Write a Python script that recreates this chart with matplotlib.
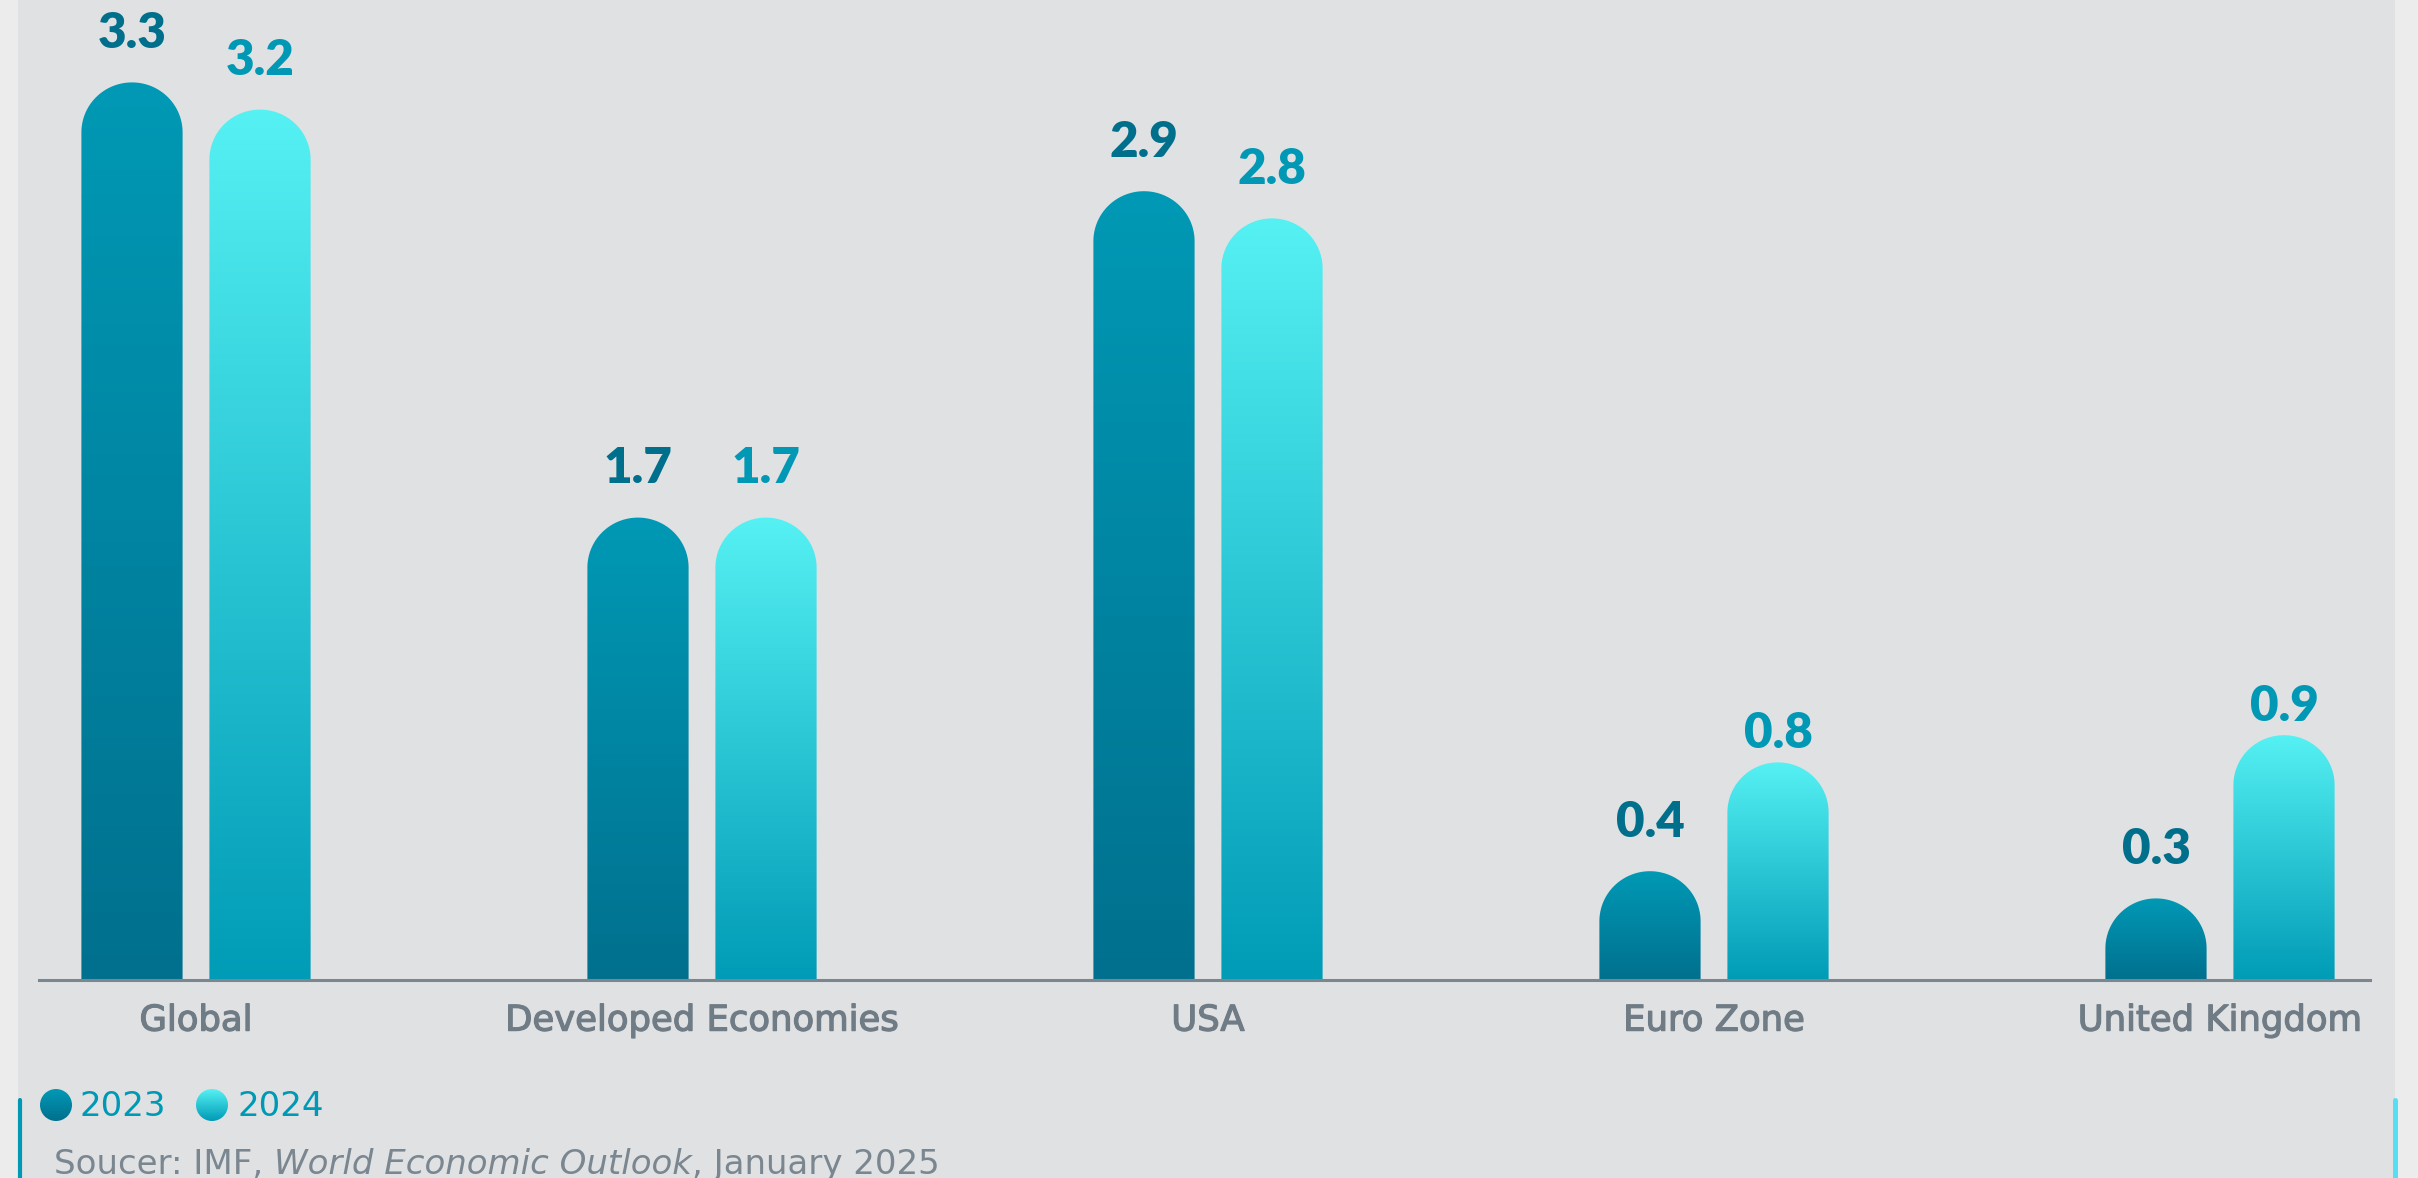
import numpy as np
import matplotlib
matplotlib.use("Agg")
import matplotlib.pyplot as plt
import matplotlib.patheffects as pe
from matplotlib.colors import LinearSegmentedColormap
from matplotlib.path import Path
from matplotlib.patches import PathPatch, Circle, Rectangle

# ---------------- data ----------------
categories = ["Global", "Developed Economies", "USA", "Euro Zone", "United Kingdom"]
series_names = ["2023", "2024"]
values_2023 = [3.3, 1.7, 2.9, 0.4, 0.3]
values_2024 = [3.2, 1.7, 2.8, 0.8, 0.9]
source_parts = ["Soucer: IMF, ", "World Economic Outlook", ", January 2025"]

# ---------------- style ----------------
W, H, DPI = 2418, 1178, 100
VAL_FONT = ["Lato", "DejaVu Sans"]
TXT_FONT = ["DejaVu Sans"]
plt.rcParams["font.family"] = TXT_FONT

cmap23 = LinearSegmentedColormap.from_list("c23", ["#00708e", "#0099b5"])
cmap24 = LinearSegmentedColormap.from_list("c24", ["#009bb6", "#55f1f3"])
lab23 = "#006f8c"
lab24 = "#0098b4"
tick_color = "#6f7b85"
# label gap above bar top (points) per series
label_gap_2023 = [35, 35, 35, 35, 35]
label_gap_2024 = [35, 35, 35, 21, 21]

fig = plt.figure(figsize=(W / DPI, H / DPI), dpi=DPI)
fig.patch.set_facecolor("#ececec")

# overlay axes in pixel coordinates for background / legend / footer
ov = fig.add_axes([0, 0, 1, 1], zorder=-1)
ov.axis("off")
ov.add_patch(Rectangle((18, 0), 2377, H, color="#e0e1e3", lw=0, zorder=0))

# main axes
base_px = 980
px_per_unit = 272
ax_left, ax_right = 39, 2370
ax = fig.add_axes([ax_left / W, (H - base_px) / H, (ax_right - ax_left) / W, base_px / H])
ax.patch.set_alpha(0)
xmin, xmax = (ax_left - 196) / 506, (ax_right - 196) / 506
ymax = base_px / px_per_unit

x = np.arange(len(categories))
bw = 0.2
off = 0.1265
cap_h = 50 / px_per_unit

def rounded_bar(rect, cmap):
    x0 = rect.get_x()
    w = rect.get_width()
    h = rect.get_height()
    x1 = x0 + w
    xc = x0 + w / 2
    rx = w / 2
    ry = min(cap_h, h)
    t = np.linspace(np.pi, 0, 80)
    arc = np.column_stack([xc + rx * np.cos(t), (h - ry) + ry * np.sin(t)])
    verts = np.vstack([[x0, 0], [x0, h - ry], arc, [x1, h - ry], [x1, 0], [x0, 0]])
    codes = [Path.MOVETO] + [Path.LINETO] * (len(verts) - 2) + [Path.CLOSEPOLY]
    patch = PathPatch(Path(verts, codes), facecolor="none", edgecolor="none")
    ax.add_patch(patch)
    grad = np.linspace(0, 1, 256).reshape(-1, 1)
    im = ax.imshow(grad, extent=(x0, x1, 0, h), origin="lower", cmap=cmap,
                   aspect="auto", zorder=2)
    im.set_clip_path(patch)

for vals, dx, cmap, lc, gaps in [(values_2023, -off, cmap23, lab23, label_gap_2023),
                                 (values_2024, off, cmap24, lab24, label_gap_2024)]:
    bars = ax.bar(x + dx, vals, width=bw, alpha=0)
    for rect, v, g in zip(bars, vals, gaps):
        rounded_bar(rect, cmap)
        ax.annotate(f"{v:.1f}", xy=(rect.get_x() + rect.get_width() / 2, rect.get_height()),
                    xytext=(0, g), textcoords="offset points", ha="center", va="center",
                    fontsize=35.5, fontweight="heavy", color=lc, zorder=3, family=VAL_FONT)

ax.set_xlim(xmin, xmax)
ax.set_ylim(0, ymax)
for s in ["top", "left", "right"]:
    ax.spines[s].set_visible(False)
ax.spines["bottom"].set_color("#7a8690")
ax.spines["bottom"].set_linewidth(2.2)
ax.spines["bottom"].set_zorder(4)
ax.set_yticks([])
ax.set_xticks(x)
ax.set_xticklabels(categories, fontsize=25.5, color=tick_color)
for lbl in ax.get_xticklabels():
    lbl.set_path_effects([pe.withStroke(linewidth=0.9, foreground=tick_color)])
ax.tick_params(axis="x", length=0, pad=17)

# legend (gradient dots)
ov.set_xlim(0, W)
ov.set_ylim(H, 0)
for cx, tx, cmap, name in [(56, 80, cmap23, series_names[0]), (212, 237, cmap24, series_names[1])]:
    r = 16
    c = Circle((cx, 1105), r, facecolor="none", edgecolor="none")
    ov.add_patch(c)
    grad = np.linspace(0, 1, 64).reshape(-1, 1)
    im = ov.imshow(grad, extent=(cx - r, cx + r, 1105 + r, 1105 - r), origin="lower",
                   cmap=cmap, aspect="auto", zorder=3)
    im.set_clip_path(c)
    ov.text(tx, 1107, name, fontsize=24.5, color="#0099b5", va="center", ha="left")
ov.set_xlim(0, W)
ov.set_ylim(H, 0)

# footer
t1 = ov.text(54, 1181, source_parts[0], fontsize=24.5, color="#7a8690", va="bottom", ha="left")
t2 = ov.annotate(source_parts[1], xy=(1, 0), xycoords=t1, va="bottom", ha="left",
                 fontsize=24.5, color="#7a8690", style="italic")
t3 = ov.annotate(source_parts[2], xy=(1, 0), xycoords=t2, va="bottom", ha="left",
                 fontsize=24.5, color="#7a8690")

# accent lines
ov.plot([20, 20], [1100, 1185], color="#0099b5", lw=3, solid_capstyle="round", zorder=4)
ov.plot([2395, 2395], [1100, 1185], color="#55dff5", lw=3.6, solid_capstyle="round", zorder=4)

fig.savefig("out.png", dpi=DPI, facecolor=fig.get_facecolor())
